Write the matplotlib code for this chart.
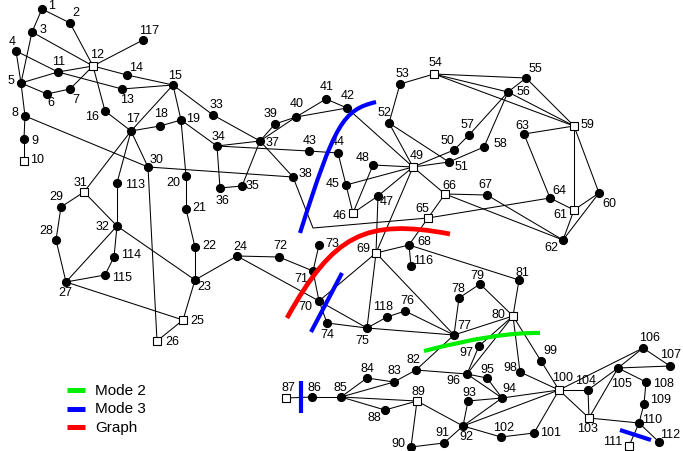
import matplotlib
matplotlib.use("Agg")
import matplotlib.pyplot as plt
from matplotlib.path import Path
from matplotlib.patches import PathPatch

plt.rcParams['font.family'] = ['Liberation Sans', 'DejaVu Sans']

# Bus layout (drawing units, y grows downward)
bus_ids = list(range(1, 119))
bus_x = [42, 70, 32, 16, 21, 47, 70, 25, 24, 24,
         58, 93, 122, 127, 173, 105, 131, 160, 181, 186,
         186, 195, 195, 237, 183, 157, 66, 56, 61, 148,
         84, 117, 213, 217, 242, 220, 260, 293, 275, 296,
         326, 347, 309, 338, 346, 353, 378, 373, 413, 454,
         449, 389, 400, 434, 526, 508, 469, 484, 574, 599,
         574, 563, 524, 550, 428, 445, 487, 409, 376, 319,
         313, 279, 319, 327, 367, 405, 454, 459, 480, 513,
         519, 416, 394, 367, 341, 312, 286, 385, 417, 411,
         444, 463, 468, 502, 487, 467, 479, 520, 541, 559,
         534, 501, 589, 588, 618, 643, 670, 646, 644, 639,
         629, 659, 117, 114, 105, 411, 143, 387]
bus_y = [10, 24, 33, 52, 84, 95, 90, 117, 140, 162,
         73, 67, 90, 76, 86, 112, 132, 127, 121, 177,
         210, 248, 281, 257, 321, 342, 283, 241, 208, 168,
         193, 227, 116, 147, 187, 189, 142, 178, 125, 118,
         100, 109, 152, 154, 186, 214, 197, 166, 168, 151,
         163, 124, 85, 75, 79, 93, 136, 148, 127, 194,
         211, 241, 135, 199, 219, 195, 196, 246, 254, 302,
         272, 258, 246, 324, 329, 312, 336, 299, 285, 317,
         281, 371, 383, 379, 398, 398, 399, 411, 402, 448,
         444, 427, 402, 399, 379, 375, 347, 373, 362, 391,
         434, 438, 419, 391, 369, 349, 367, 383, 405, 424,
         447, 443, 184, 258, 276, 267, 41, 318]

# Generator buses drawn as open squares
square_buses = [10, 12, 25, 26, 31, 46, 49, 54, 59, 61, 65, 66, 69,
                80, 87, 89, 100, 103, 111]

branches = [(1, 2), (1, 3), (2, 12), (3, 5), (3, 12), (4, 5), (4, 11), (5, 6), (5, 8),
            (5, 11), (6, 7), (7, 12), (8, 9), (8, 30), (9, 10), (11, 12), (11, 13),
            (12, 14), (12, 16), (12, 117), (13, 15), (14, 15), (15, 17), (15, 19),
            (15, 33), (16, 17), (17, 18), (17, 30), (17, 31), (17, 113), (18, 19),
            (19, 20), (19, 34), (20, 21), (21, 22), (22, 23), (23, 24), (23, 25),
            (23, 32), (24, 70), (24, 72), (25, 26), (25, 27), (26, 30), (27, 28),
            (27, 32), (27, 115), (28, 29), (29, 31), (30, 38), (31, 32), (32, 113),
            (32, 114), (33, 37), (34, 36), (34, 37), (34, 43), (35, 36), (35, 37),
            (37, 38), (37, 39), (37, 40), (38, 65), (39, 40), (40, 41), (40, 42),
            (41, 42), (42, 49), (43, 44), (44, 45), (45, 46), (45, 49), (46, 47),
            (46, 48), (47, 49), (47, 69), (48, 49), (49, 50), (49, 51), (49, 52),
            (49, 66), (49, 69), (50, 57), (51, 52), (51, 58), (52, 53), (53, 54),
            (54, 55), (54, 56), (54, 59), (55, 56), (55, 59), (56, 57), (56, 58),
            (56, 59), (59, 60), (59, 61), (59, 63), (60, 61), (60, 62), (61, 62),
            (61, 64), (62, 66), (62, 67), (63, 64), (64, 65), (65, 66), (65, 68),
            (66, 67), (68, 69), (68, 81), (68, 116), (69, 70), (69, 75), (69, 77),
            (70, 71), (70, 74), (70, 75), (71, 72), (71, 73), (74, 75), (75, 77),
            (75, 118), (76, 77), (76, 118), (77, 78), (77, 80), (77, 82), (78, 79),
            (79, 80), (80, 81), (80, 96), (80, 97), (80, 98), (80, 99), (82, 83),
            (82, 96), (83, 84), (83, 85), (84, 85), (85, 86), (85, 88), (85, 89),
            (86, 87), (88, 89), (89, 90), (89, 92), (90, 91), (91, 92), (92, 93),
            (92, 94), (92, 100), (92, 102), (93, 94), (94, 95), (94, 96), (94, 100),
            (95, 96), (96, 97), (98, 100), (99, 100), (100, 101), (100, 103),
            (100, 104), (100, 106), (101, 102), (103, 104), (103, 105), (103, 110),
            (104, 105), (105, 106), (105, 107), (105, 108), (106, 107), (108, 109),
            (109, 110), (110, 111), (110, 112), (114, 115)]

# Branches routed through an intermediate bend
branch_bends = {(38, 65): [(313, 229)]}

# Label offsets from the bus marker
label_offsets = {
    1: (10, -4), 2: (6, -11), 3: (11, -3), 4: (-4, -10), 5: (-10, -3), 6: (4, 8),
    7: (6, 10), 8: (-10, -4), 9: (11, 1), 10: (13, -2), 11: (1, -11), 12: (4, -12),
    13: (5, 10), 14: (9, -8), 15: (2, -10), 16: (-13, 5), 17: (2, -13), 18: (1, -13),
    19: (12, -2), 20: (-13, 6), 21: (13, -2), 22: (14, -2), 23: (9, 6), 24: (3, -10),
    25: (14, 0), 26: (15, 0), 27: (-1, 10), 28: (-10, -10), 29: (-5, -11), 30: (9, -8),
    31: (-3, -10), 32: (-15, 0), 33: (3, -11), 34: (2, -10), 35: (10, -1), 36: (3, 12),
    37: (12, 1), 38: (12, -4), 39: (-4, -11), 40: (1, -14), 41: (1, -13), 42: (1, -13),
    43: (1, -11), 44: (0, -12), 45: (-13, -2), 46: (-13, 2), 47: (9, 5), 48: (-10, -8),
    49: (4, -12), 50: (-7, -10), 51: (12, 4), 52: (-5, -11), 53: (2, -11), 54: (1, -12),
    55: (9, -10), 56: (15, -1), 57: (-2, -11), 58: (16, -4), 59: (13, -2), 60: (10, 10),
    61: (-14, 4), 62: (-12, 7), 63: (-2, -9), 64: (9, -8), 65: (-6, -10), 66: (4, -9),
    67: (-2, -11), 68: (15, -4), 69: (-13, -5), 70: (-14, 5), 71: (-12, 7), 72: (1, -12),
    73: (13, -2), 74: (0, 11), 75: (-5, 12), 76: (2, -11), 77: (10, -10), 78: (-1, -10),
    79: (-3, -9), 80: (-15, -2), 81: (3, -8), 82: (-3, -11), 83: (0, -12), 84: (0, -10),
    85: (-1, -10), 86: (2, -10), 87: (2, -11), 88: (-11, 7), 89: (1, -10), 90: (-13, -4),
    91: (-2, -11), 92: (3, 10), 93: (1, -9), 94: (7, -10), 95: (0, -9), 96: (-14, 6),
    97: (-13, 6), 98: (-10, -5), 99: (9, -11), 100: (4, -13), 101: (17, -1),
    102: (3, -10), 103: (-2, 10), 104: (-2, -10), 105: (4, 15), 106: (7, -11),
    107: (1, -12), 108: (17, 1), 109: (17, -5), 110: (13, -4), 111: (-16, -5),
    112: (11, -8), 113: (18, 1), 114: (17, -3), 115: (17, 2), 116: (12, -6),
    117: (6, -10), 118: (-4, -11)}

# Partition cut curves (Bezier control points)
cut_graph = [(287, 319), (333, 236), (365, 219), (450, 235)]
cut_mode3 = [(300, 234), (335, 124), (343, 111), (376, 103)]
cut_mode3_segments = [[(342, 274), (311, 333)],
                      [(301, 382), (301, 414)],
                      [(620, 431), (651, 441)]]
cut_mode2 = [(424, 352), (497, 333), (540, 334)]

legend_labels = ["Mode 2", "Mode 3", "Graph"]
legend_colors = ["#00ee00", "#0000ff", "#ff0000"]

W, H = 683, 452
fig = plt.figure(figsize=(W / 100, H / 100), dpi=100)
ax = fig.add_axes([0, 0, 1, 1])
ax.set_xlim(0, W)
ax.set_ylim(H, 0)
ax.axis('off')

pos = {b: (x, y) for b, x, y in zip(bus_ids, bus_x, bus_y)}

for a, b in branches:
    pts = [pos[a]] + branch_bends.get((a, b), []) + [pos[b]]
    ax.plot([p[0] for p in pts], [p[1] for p in pts], color='black', lw=0.75,
            zorder=1, solid_capstyle='round')

dot_ids = [b for b in bus_ids if b not in square_buses]
ax.plot([pos[b][0] for b in dot_ids], [pos[b][1] for b in dot_ids], 'o',
        color='black', ms=5.6, zorder=3)
ax.plot([pos[b][0] for b in square_buses], [pos[b][1] for b in square_buses], 's',
        mfc='white', mec='black', mew=0.8, ms=6, zorder=3)

for b in bus_ids:
    dx, dy = label_offsets[b]
    ax.text(pos[b][0] + dx, pos[b][1] + dy, str(b), fontsize=9,
            ha='center', va='center', zorder=4)


def draw_curve(points, color, lw):
    codes = {3: [Path.MOVETO, Path.CURVE3, Path.CURVE3],
             4: [Path.MOVETO, Path.CURVE4, Path.CURVE4, Path.CURVE4]}[len(points)]
    ax.add_patch(PathPatch(Path(points, codes), fill=False, edgecolor=color,
                           lw=lw, capstyle='butt', zorder=5))


draw_curve(cut_graph, legend_colors[2], 3.4)
draw_curve(cut_mode3, legend_colors[1], 3.0)
for seg in cut_mode3_segments:
    ax.plot([p[0] for p in seg], [p[1] for p in seg], color=legend_colors[1],
            lw=3.0, solid_capstyle='butt', zorder=5)
draw_curve(cut_mode2, legend_colors[0], 3.0)

# Legend
for i, (lab, col) in enumerate(zip(legend_labels, legend_colors)):
    yy = 391 + 18.5 * i
    ax.plot([67, 85], [yy, yy], color=col, lw=3.6, solid_capstyle='butt')
    ax.text(95, yy, lab, fontsize=11, ha='left', va='center')

fig.savefig("out.png", dpi=100)
